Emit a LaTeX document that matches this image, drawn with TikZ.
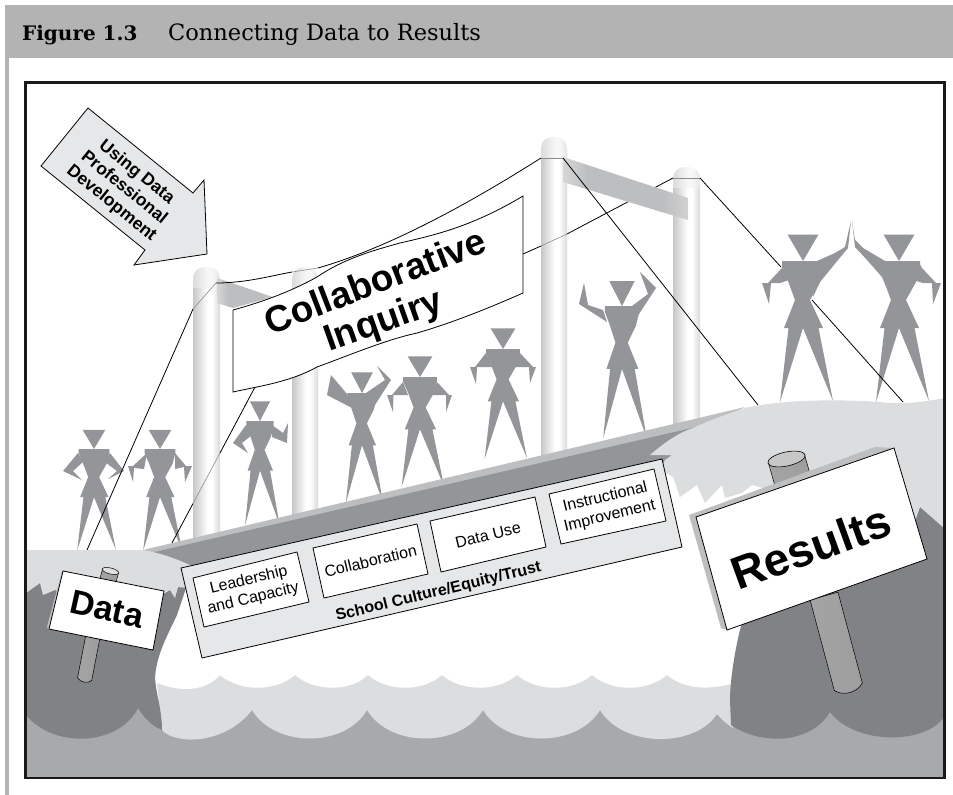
\documentclass[tikz,border=0pt]{standalone}
\usepackage{fontspec}
\setmainfont{Liberation Sans}
\newfontfamily\hdr{DejaVu Serif}
\usetikzlibrary{calc}
\definecolor{cdark}{HTML}{808285}
\definecolor{csea}{HTML}{A7A9AC}
\definecolor{clight}{HTML}{DCDDDE}
\definecolor{cbox}{HTML}{E6E7E8}
\definecolor{cfig}{HTML}{939598}
\definecolor{cstrip}{HTML}{BCBEC0}
\definecolor{cband}{HTML}{B3B3B3}
\pgfdeclarehorizontalshading{polesh}{100bp}{color(0bp)=(black!22); color(25bp)=(black!22); color(52bp)=(white); color(60bp)=(white); color(75bp)=(black!15); color(100bp)=(black!15)}
\pgfdeclarehorizontalshading{capsh}{100bp}{color(0bp)=(black!14); color(25bp)=(black!14); color(52bp)=(black!3); color(60bp)=(black!3); color(75bp)=(black!10); color(100bp)=(black!10)}
\pgfdeclarehorizontalshading{beamsh}{100bp}{color(0bp)=(black!16); color(25bp)=(black!16); color(35bp)=(cstrip); color(65bp)=(cstrip); color(75bp)=(black!18); color(100bp)=(black!18)}
\tikzset{
  fig/.style={fill=cfig,draw=none},
  pole/.style={shading=polesh},
  polecap/.style={shading=capsh},
  cable/.style={draw=black,line width=.8pt},
  ghost/.style={draw=black!45,line width=.6pt},
  outline/.style={draw=black,line width=.8pt},
  post/.style={left color=black!36,middle color=black!6,right color=black!38,draw=black,line width=.5pt},
  boxlabel/.style={align=center,rotate=13.5,font=\fontsize{16}{19}\selectfont,inner sep=0pt},
  bigbold/.style={font=\bfseries\fontsize{#1}{#1}\selectfont,inner sep=0pt}
}
\newcommand{\person}[4]{%
  \fill[fig,shift={(#1,#2)},xscale=#3,yscale=#4]
    (-15.5,-26.5)--(15.5,-26.5)--(0,0)--cycle
    (-21,0)--(21,0)--(21,6)--(17,21)--(7,39)--(20,67)--(15.5,67)--(30,140)--(0,67)--(-23,141)--(-14.5,67)--(-19,67)--(-8,39)--(-15,20)--(-21,6)--cycle;
}
\newcommand{\poleat}[4]{% left, right, top, bottom
  \shade[pole] (#1,#4)--(#1,#3+13.5)--(#2,#3+13.5)--(#2,#4)--cycle;
  \shade[polecap] (#1,#3+21) -- (#1,#3+13) .. controls (#1,#3+3) and (#1+6,#3) .. ({(#1+#2)/2},#3) .. controls (#2-6,#3) and (#2,#3+3) .. (#2,#3+13) -- (#2,#3+21) -- cycle;
}
\newcommand{\postat}[5]{% x, y of top centre, rotation, half width, length
  \shade[post,shift={(#1,#2)},rotate=#3] (-#4,0)--(#4,0)--(#4,#5) .. controls (#4*.5,#5+#4*.55) and (-#4*.5,#5+#4*.55) .. (-#4,#5)--cycle;
}
\begin{document}
\begin{tikzpicture}[x=1pt,y=-1pt]
\useasboundingbox (0,0) rectangle (953,795);
\fill[white] (0,0) rectangle (953,795);
% header
\fill[cband] (5,5) rectangle (953,58);
\fill[cband] (5,58) rectangle (9,795);
\node[anchor=base west,inner sep=0pt,font=\hdr\bfseries\fontsize{20}{22}\selectfont] (figno) at (22,40) {Figure 1.3};
\node[anchor=base west,inner sep=0pt,font=\hdr\fontsize{22.5}{24}\selectfont] (figtitle) at (168,40) {Connecting Data to Results};
% arrow
\draw[line width=.8pt,fill=cbox] (88,108)--(193,193)--(204,180)--(207,254)--(134,265)--(145,250)--(41,166)--cycle;
\node[align=center,rotate=-39,inner sep=0pt,font=\bfseries\fontsize{17.5}{20}\selectfont] (pd) at (124,188) {Using Data\\Professional\\Development};
% poles
\poleat{193}{220}{267}{560}
\poleat{292}{318}{267}{545}
\poleat{541}{567}{137}{480}
\poleat{673}{700}{167}{440}
% figures
\person{94}{449}{.73}{.72}
\fill[fig] (78,453)--(63,471)--(82,480)--(73,471)--(83,462)--cycle;
\fill[fig] (110,453)--(124,471)--(108,479)--(117,471)--(105,462)--cycle;
\person{160}{449}{.73}{.72}
\fill[fig] (147,453)--(133,466)--(128,466)--(133,482)--(134,468)--(144,469)--cycle;
\fill[fig] (175,453)--(186,466)--(192,466)--(185,482)--(184,467)--(175,469)--cycle;
\person{260}{421}{.65}{.74}
\fill[fig] (246,425)--(233,443)--(248,453)--(242,443)--(252,435)--cycle;
\fill[fig] (272,425)--(283,433)--(288,423)--(287,443)--(272,437)--cycle;
\person{362}{393}{.7}{.78}
\fill[fig] (347,394)--(331,375)--(327,395)--(352,408)--cycle;
\fill[fig] (366,393)--(385,380)--(377,366)--(391,380)--(375,405)--cycle;
\person{420}{377}{.8}{.78}
\fill[fig] (403,382)--(392,395)--(387,395)--(393,412)--(393.5,395)--(408,395)--cycle;
\fill[fig] (437,382)--(449,395)--(452,395)--(446,412)--(446,395)--(432,395)--cycle;
\person{503}{349}{.8}{.78}
\fill[fig] (486,353)--(475,367)--(470,367)--(476,384)--(477,367)--(492,367)--cycle;
\fill[fig] (520,353)--(533,367)--(536,367)--(530,383)--(529,367)--(515,367)--cycle;
\person{622}{306}{.82}{.94}
\fill[fig] (603,310)--(588,305)--(584,283)--(579,304)--(607,322)--cycle;
\fill[fig] (632,306)--(648,294)--(640,272)--(656,288)--(637,317)--cycle;
\person{803}{261}{1}{1}
\fill[fig] (782,263)--(782,268)--(768,283)--(762,283)--(769,304)--(771,283)--(780,283)--(789,280)--cycle;
\fill[fig] (817,261)--(835,253)--(845,247)--(851,221)--(848,248)--(838,260)--(820,282)--(813,297)--cycle;
\person{899}{261}{1}{1}
\fill[fig] (885,261)--(863,248)--(855,240)--(852,221)--(855,247)--(867,260)--(882,277)--(892,300)--cycle;
\fill[fig] (919,263)--(922,268)--(936,283)--(941,283)--(933,304)--(932,283)--(923,283)--(913,280)--cycle;
% cable anchors
\coordinate (gL) at (87,550);
\coordinate (p1a) at (193,309);
\coordinate (p1b) at (216,283);
\coordinate (p3a) at (541,158);
\coordinate (p3b) at (563,158);
\coordinate (gR) at (758,405);
\coordinate (gL2) at (172,543);
\coordinate (p1c) at (193,503.5);
\coordinate (p1d) at (220,453);
\coordinate (bnA) at (255,387);
\coordinate (bnB) at (523,254);
\coordinate (p3c) at (541,246);
\coordinate (p3d) at (567,234);
\coordinate (p4a) at (673,178);
\coordinate (p4b) at (700,178);
\coordinate (bodyA) at (781,267);
\coordinate (bodyB) at (812,300);
\coordinate (gR2) at (903,402);
% lower cable
\draw[cable] (gL2)--(p1c);
\draw[ghost] (p1c)--(p1d);
\draw[cable] (p1d)--(bnA);
\draw[cable] (bnB)--(p3c);
\draw[ghost] (p3c)--(p3d);
\draw[cable] (p3d)--(p4a);
\draw[ghost] (p4a)--(p4b);
\draw[cable] (p4b)--(bodyA);
\draw[cable] (bodyB)--(gR2);
% beams
\shade[shading=beamsh] (217,278)--(273,297)--(233,308)--(217,303)--cycle;
\shade[shading=beamsh] (563,157)--(688,198)--(688,220)--(563,182)--cycle;
% upper cable
\draw[cable] (gL)--(p1a);
\draw[ghost] (p1a)--(p1b);
\draw[cable] (p1b)--(220,283) .. controls (250,282) and (270,276) .. (292,272);
\draw[ghost] (292,272)--(318,268);
\draw[cable] (318,268) .. controls (370,253) and (440,222) .. (p3a);
\draw[ghost] (p3a)--(p3b);
\draw[cable] (p3b)--(gR);
% banner
\draw[outline,fill=white] (233,310) .. controls (262,302) and (290,292) .. (317,277)
  .. controls (345,258) and (375,250) .. (400,243)
  .. controls (430,236) and (470,228) .. (523,196)
  -- (523,293) .. controls (480,312) and (445,325) .. (417,333)
  .. controls (385,340) and (350,355) .. (317,367)
  .. controls (290,382) and (260,386) .. (233,392) -- cycle;
\node[bigbold=37,rotate=21] (ci1) at (375,281) {Collaborative};
\node[bigbold=37,rotate=19.5] (ci2) at (384,322) {Inquiry};
% sea and waves
\fill[csea] (26,700) rectangle (944,778);
\fill[clight] (155,665)--(162,730) .. controls (175,745) and (225,745) .. (252,710)
  .. controls (275,748) and (345,748) .. (367,710)
  .. controls (390,748) and (460,748) .. (483,710)
  .. controls (506,748) and (577,748) .. (600,710)
  .. controls (623,748) and (695,748) .. (717,714)
  .. controls (722,720) and (727,724) .. (733,728) -- (733,665) -- cycle;
\fill[white] (150,640)--(157,683) .. controls (180,692) and (205,692) .. (220,675)
  .. controls (240,692) and (275,692) .. (295,675)
  .. controls (315,692) and (350,692) .. (368,675)
  .. controls (388,692) and (422,692) .. (442,675)
  .. controls (462,692) and (497,692) .. (517,675)
  .. controls (537,692) and (572,692) .. (592,675)
  .. controls (612,692) and (647,692) .. (667,675)
  .. controls (685,690) and (710,690) .. (735,683) -- (735,640) -- cycle;
% dark cliffs
\fill[cdark] (26,580)--(187,585)--(177,615) .. controls (165,640) and (157,655) .. (155,677)
  .. controls (156,695) and (162,710) .. (162,730)
  .. controls (150,725) and (143,716) .. (138,708)
  .. controls (120,745) and (55,750) .. (26,715) -- cycle;
\fill[cdark] (731,725) -- (730,700) .. controls (730,680) and (735,650) .. (740,630) -- (760,560) -- (850,500) -- (920,505) -- (944,528) -- (944,717)
  .. controls (925,745) and (855,745) .. (830,712)
  .. controls (810,745) and (760,745) .. (731,725) -- cycle;
% deck
\fill[cstrip] (143,550)--(745,407)--(710,425)--(150,556)--cycle;
\fill[cfig] (150,553)--(696,427)--(655,475)--(190,585)--cycle;
% land left
\fill[clight] (26,550)--(143,550) .. controls (160,553) and (175,558) .. (194,567)
  --(187,588)--(178,587)--(175,598)--(170,590)--(120,620)--(55,590)--(43,595)--(40,583)--(26,593)--cycle;
% land right
\fill[clight] (745,408) .. controls (790,398) and (850,400) .. (880,402)
  .. controls (900,405) and (925,402) .. (944,398)
  -- (944,528) -- (920,507) -- (912,530) -- (880,500) -- (770,490) -- (752,485) -- (742,493) -- (725,498) -- (722,485) -- (705,503) -- (697,485) -- (680,497) -- (673,477) -- (660,470) -- (665,460) -- (672,455) -- (650,455)
  .. controls (665,442) and (680,432) .. (693,428) .. controls (710,420) and (730,413) .. (745,408) -- cycle;
% school box
\draw[outline,fill=cbox] (181,568)--(662,459)--(682,547)--(202,658)--cycle;
\draw[outline,fill=white] (193,578)--(297,552)--(309,602)--(204,627)--cycle;
\draw[outline,fill=white] (313,548)--(417,524)--(428,574)--(324,598)--cycle;
\draw[outline,fill=white] (430,521)--(535,497)--(546,547)--(441,572)--cycle;
\draw[outline,fill=white] (549,494)--(654,469)--(666,521)--(561,544)--cycle;
\node[boxlabel] (leader) at (251,589.5) {Leadership\\and Capacity};
\node[boxlabel] (collab) at (370.5,561) {Collaboration};
\node[boxlabel] (datause) at (488,535) {Data Use};
\node[boxlabel] (instr) at (607.5,507) {Instructional\\Improvement};
\node[rotate=13.5,inner sep=0pt,font=\bfseries\fontsize{16}{19}\selectfont] (culture) at (438.5,592) {School Culture/Equity/Trust};
% data sign
\postat{110.5}{571}{-15}{8.2}{18}
\draw[fill=black!12,line width=.5pt,rotate around={-14:(110.5,571)}] (110.5,571) ellipse (8.5 and 3);
\postat{93}{636}{-11}{7.2}{44}
\fill[cstrip] (62,571)--(47,627)--(49,630)--(64,572)--cycle;
\draw[outline,fill=white] (63,571)--(164,591)--(153,650)--(49,629)--cycle;
\node[bigbold=34,rotate=-12.5] (datasign) at (107,609) {Data};
% results sign
\postat{786.5}{459}{16}{18.5}{32}
\draw[fill=black!22,line width=.6pt,rotate around={12:(786.5,459)}] (786.5,459) ellipse (19 and 7);
\postat{824}{596}{15}{14.5}{94}
\fill[cstrip] (689,515)--(875,447)--(894,448)--(696,517)--(727,630)--(721,628)--cycle;
\draw[outline,fill=white] (696,517)--(894,448)--(927,559)--(727,630)--cycle;
\node[bigbold=46,rotate=20] (results) at (811,547) {Results};
% frame
\draw[line width=2.2pt,draw=black!90] (25.5,82.5) rectangle (944.5,778);
\end{tikzpicture}
\end{document}
